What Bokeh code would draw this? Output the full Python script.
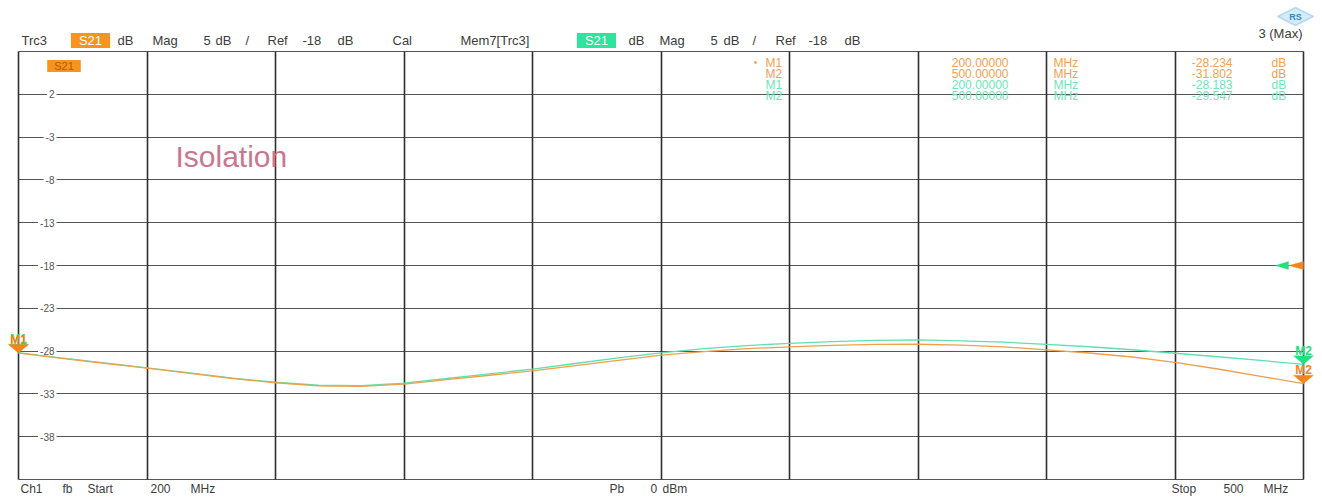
from bokeh.plotting import figure
from bokeh.models import Range1d, FixedTicker, Label, PolyAnnotation, Grid
from bokeh.embed import file_html
from bokeh.resources import INLINE

# ---------------- data ----------------
freq_mhz = [200, 210, 220, 230, 240, 250, 260, 270, 280, 290, 300,
            310, 320, 330, 340, 350, 360, 370, 380, 390, 400,
            410, 420, 430, 440, 450, 460, 470, 480, 490, 500]
trace_db = [-28.234, -28.85, -29.42, -30.00, -30.60, -31.20, -31.70, -32.06, -32.12, -31.86, -31.34,
            -30.82, -30.30, -29.69, -29.08, -28.47, -28.05, -27.72, -27.50, -27.33, -27.22,
            -27.20, -27.30, -27.50, -27.85, -28.22, -28.69, -29.31, -30.09, -30.95, -31.802]
memory_db = [-28.183, -28.80, -29.38, -29.95, -30.55, -31.15, -31.64, -31.99, -32.05, -31.74, -31.20,
             -30.65, -30.10, -29.45, -28.80, -28.20, -27.70, -27.35, -27.10, -26.90, -26.75,
             -26.70, -26.80, -26.95, -27.22, -27.49, -27.84, -28.25, -28.66, -29.09, -29.547]
marker_names = ["M1", "M2"]
marker_freq = [200.0, 500.0]
trace_marker_db = [-28.234, -31.802]
memory_marker_db = [-28.183, -29.547]
ref_level_db = -18
x_grid = [200, 230, 260, 290, 320, 350, 380, 410, 440, 470, 500]
y_grid = [7, 2, -3, -8, -13, -18, -23, -28, -33, -38, -43]
y_tick_labels = ["2", "-3", "-8", "-13", "-18", "-23", "-28", "-33", "-38"]

# ---------------- geometry (image pixels) ----------------
W, H = 1322, 497
X0, X1 = 200, 500
Y0, Y1 = -43, 7
BOX_L, BOX_R, BOX_T, BOX_B = 18, 1303, 51, 479
DX = (X1 - X0) / (BOX_R - BOX_L)
DY = (Y1 - Y0) / (BOX_B - BOX_T)


def px(x):
    return X0 + (x - BOX_L) * DX


def py(y):
    return Y1 - (y - BOX_T) * DY


FONT = "Liberation Sans"
TXT = "#3c3c3c"
TRACE_C = "#eea04c"
MEM_C = "#5fe0ad"
ORANGE_TXT = "#f2a04e"
GREEN_TXT = "#6ee6b8"
ORANGE_MK = "#f7831c"
GREEN_MK = "#1ee07e"

p = figure(width=W, height=H, x_range=Range1d(px(0), px(W)), y_range=Range1d(py(H), py(0)),
           x_axis_location=None, y_axis_location=None, toolbar_location=None,
           output_backend="svg", title=None,
           min_border_left=0, min_border_right=0, min_border_top=0, min_border_bottom=0)
p.center = [r for r in p.center if not isinstance(r, Grid)]
p.outline_line_color = None
p.background_fill_color = "white"
p.border_fill_color = "white"

inner_y = y_grid[1:-1]
try:
    gy = Grid(dimension=1, ticker=FixedTicker(ticks=y_grid), cross_bounds=(X0, X1),
              grid_line_color="#555555", grid_line_width=1.1)
    gx = Grid(dimension=0, ticker=FixedTicker(ticks=x_grid), cross_bounds=(Y0, Y1),
              grid_line_color="#2e2e2e", grid_line_width=1.6)
    p.add_layout(gy)
    p.add_layout(gx)
except Exception:
    p.segment(x0=[X0] * len(y_grid), y0=y_grid, x1=[X1] * len(y_grid), y1=y_grid,
              line_color="#555555", line_width=1.1)
    p.segment(x0=x_grid, y0=[Y0] * len(x_grid), x1=x_grid, y1=[Y1] * len(x_grid),
              line_color="#2e2e2e", line_width=1.6)


def lab(text, x, y, color=TXT, size=13, align="left", baseline="middle", **kw):
    p.add_layout(Label(x=px(x), y=py(y), text=text, text_color=color,
                       text_font_size=f"{size}px", text_font=FONT, text_align=align,
                       text_baseline=baseline, **kw))


# y tick labels inside the grid
for t, s in zip(inner_y, y_tick_labels):
    p.add_layout(Label(x=px(56), y=t, text=s, text_color="#555555", text_font_size="10px",
                       text_font=FONT, text_align="right", text_baseline="middle",
                       background_fill_color="white", padding=(2, 0)))

# traces
p.line(freq_mhz, memory_db, line_color=MEM_C, line_width=1.3)
p.line(freq_mhz, trace_db, line_color=TRACE_C, line_width=1.3)

# markers (triangles with tip on the trace)
for vals, col in ((memory_marker_db, GREEN_MK), (trace_marker_db, ORANGE_MK)):
    for name, f, v in zip(marker_names, marker_freq, vals):
        p.add_layout(PolyAnnotation(xs=[f - 10 * DX, f + 10 * DX, f],
                                    ys=[v + 8.5 * DY, v + 8.5 * DY, v],
                                    fill_color=col, fill_alpha=1.0, line_color=col, line_width=1))
        p.add_layout(Label(x=f, y=v, y_offset=13.5, text=name, text_color=col,
                           text_font_size="12px", text_font=FONT, text_font_style="bold",
                           text_align="center", text_baseline="middle"))

# reference level arrows
p.add_layout(PolyAnnotation(xs=[X1 - 28 * DX, X1 - 15 * DX, X1 - 15 * DX],
                            ys=[ref_level_db, ref_level_db + 4 * DY, ref_level_db - 4 * DY],
                            fill_color=GREEN_MK, fill_alpha=1.0, line_color=GREEN_MK))
p.add_layout(PolyAnnotation(xs=[X1 - 15 * DX, X1, X1],
                            ys=[ref_level_db, ref_level_db + 4 * DY, ref_level_db - 4 * DY],
                            fill_color=ORANGE_MK, fill_alpha=1.0, line_color=ORANGE_MK))

# header line
HY = 40
lab("Trc3", 21, HY)
lab("S21", 90, HY, color="white", align="center", background_fill_color="#f7931e", padding=(8, 0))
for w, x in (("dB", 117), ("Mag", 152), ("5", 203), ("dB", 215), ("/", 245),
             ("Ref", 267), ("-18", 302), ("dB", 337), ("Cal", 392), ("Mem7[Trc3]", 460)):
    lab(w, x, HY)
lab("S21", 596, HY, color="white", align="center", background_fill_color="#2fe39c", padding=(8, 0))
for w, x in (("dB", 628), ("Mag", 659), ("5", 710), ("dB", 723), ("/", 752),
             ("Ref", 775), ("-18", 808), ("dB", 844)):
    lab(w, x, HY)
lab("3 (Max)", 1302, 33, align="right")

# R&S logo
p.add_layout(PolyAnnotation(xs=[px(1277), px(1295), px(1313), px(1295)],
                            ys=[py(16), py(7), py(16), py(25)],
                            fill_color="#d6ebfa", fill_alpha=1.0, line_color="#3d9ee0", line_width=1.5))
lab("RS", 1295, 16, color="#2f86c8", size=9, align="center", text_font_style="bold")

# trace label box and title
lab("S21", 63.5, 65.5, color="#b35a00", size=11, align="center",
    background_fill_color="#f7941d", padding=(7, 0))
lab("Isolation", 175, 156, color="#c9778f", size=30)

# marker table
rows = [("M1", marker_freq[0], trace_marker_db[0], ORANGE_TXT),
        ("M2", marker_freq[1], trace_marker_db[1], ORANGE_TXT),
        ("M1", marker_freq[0], memory_marker_db[0], GREEN_TXT),
        ("M2", marker_freq[1], memory_marker_db[1], GREEN_TXT)]
for i, (name, f, v, col) in enumerate(rows):
    yy = 62 + 11 * i
    if i == 0:
        lab("\u2022", 755, yy, color=col, size=10, align="center")
    lab(name, 765, yy, color=col, size=12)
    lab(f"{f:.5f}", 1008, yy, color=col, size=12, align="right")
    lab("MHz", 1053, yy, color=col, size=12)
    lab(f"{v:.3f}", 1232, yy, color=col, size=12, align="right")
    lab("dB", 1271, yy, color=col, size=12)

# footer
FY = 488
for w, x in (("Ch1", 20), ("fb", 62), ("Start", 87), ("200", 150), ("MHz", 190),
             ("Pb", 609), ("0", 650), ("dBm", 662), ("Stop", 1171), ("500", 1223), ("MHz", 1263)):
    lab(w, x, FY, size=12)

open("out.html", "w").write(file_html(p, INLINE))
